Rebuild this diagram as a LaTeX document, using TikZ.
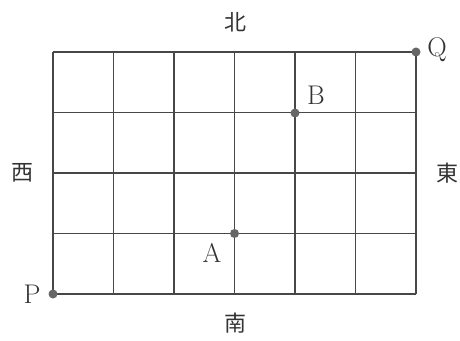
\documentclass[tikz,border=0pt]{standalone}
\usepackage{fontspec}
\newfontfamily\cjk{Noto Sans CJK JP}
\begin{document}
\begin{tikzpicture}[x=1pt,y=1pt,
  gridline/.style={draw=black!72,line width=1.1pt},
  dot/.style={circle,fill=black!60,inner sep=0pt,minimum size=9pt},
  lbl/.style={font=\fontsize{27}{27}\selectfont,text=black!80},
  dir/.style={font=\cjk\fontsize{22}{22}\selectfont,text=black!80}]
\useasboundingbox (0,0) rectangle (460,340);
\foreach \i in {0,...,6} \draw[gridline] ({53+60.5*\i},46) -- ({53+60.5*\i},288);
\foreach \j in {0,...,4} \draw[gridline] (53,{46+60.5*\j}) -- (416,{46+60.5*\j});
\node[dot] (P) at (53,46) {};
\node[dot] (Q) at (416,288) {};
\node[dot] (A) at (234.5,106.5) {};
\node[dot] (B) at (295,227) {};
\node[lbl] (Pl) at (32,46) {P};
\node[lbl] (Ql) at (437,290) {Q};
\node[lbl] (Al) at (212,87) {A};
\node[lbl] (Bl) at (316,245) {B};
\node[dir] (N) at (235,318) {北};
\node[dir] (S) at (235,17) {南};
\node[dir] (W) at (22,167) {西};
\node[dir] (E) at (447,167) {東};
\end{tikzpicture}
\end{document}
